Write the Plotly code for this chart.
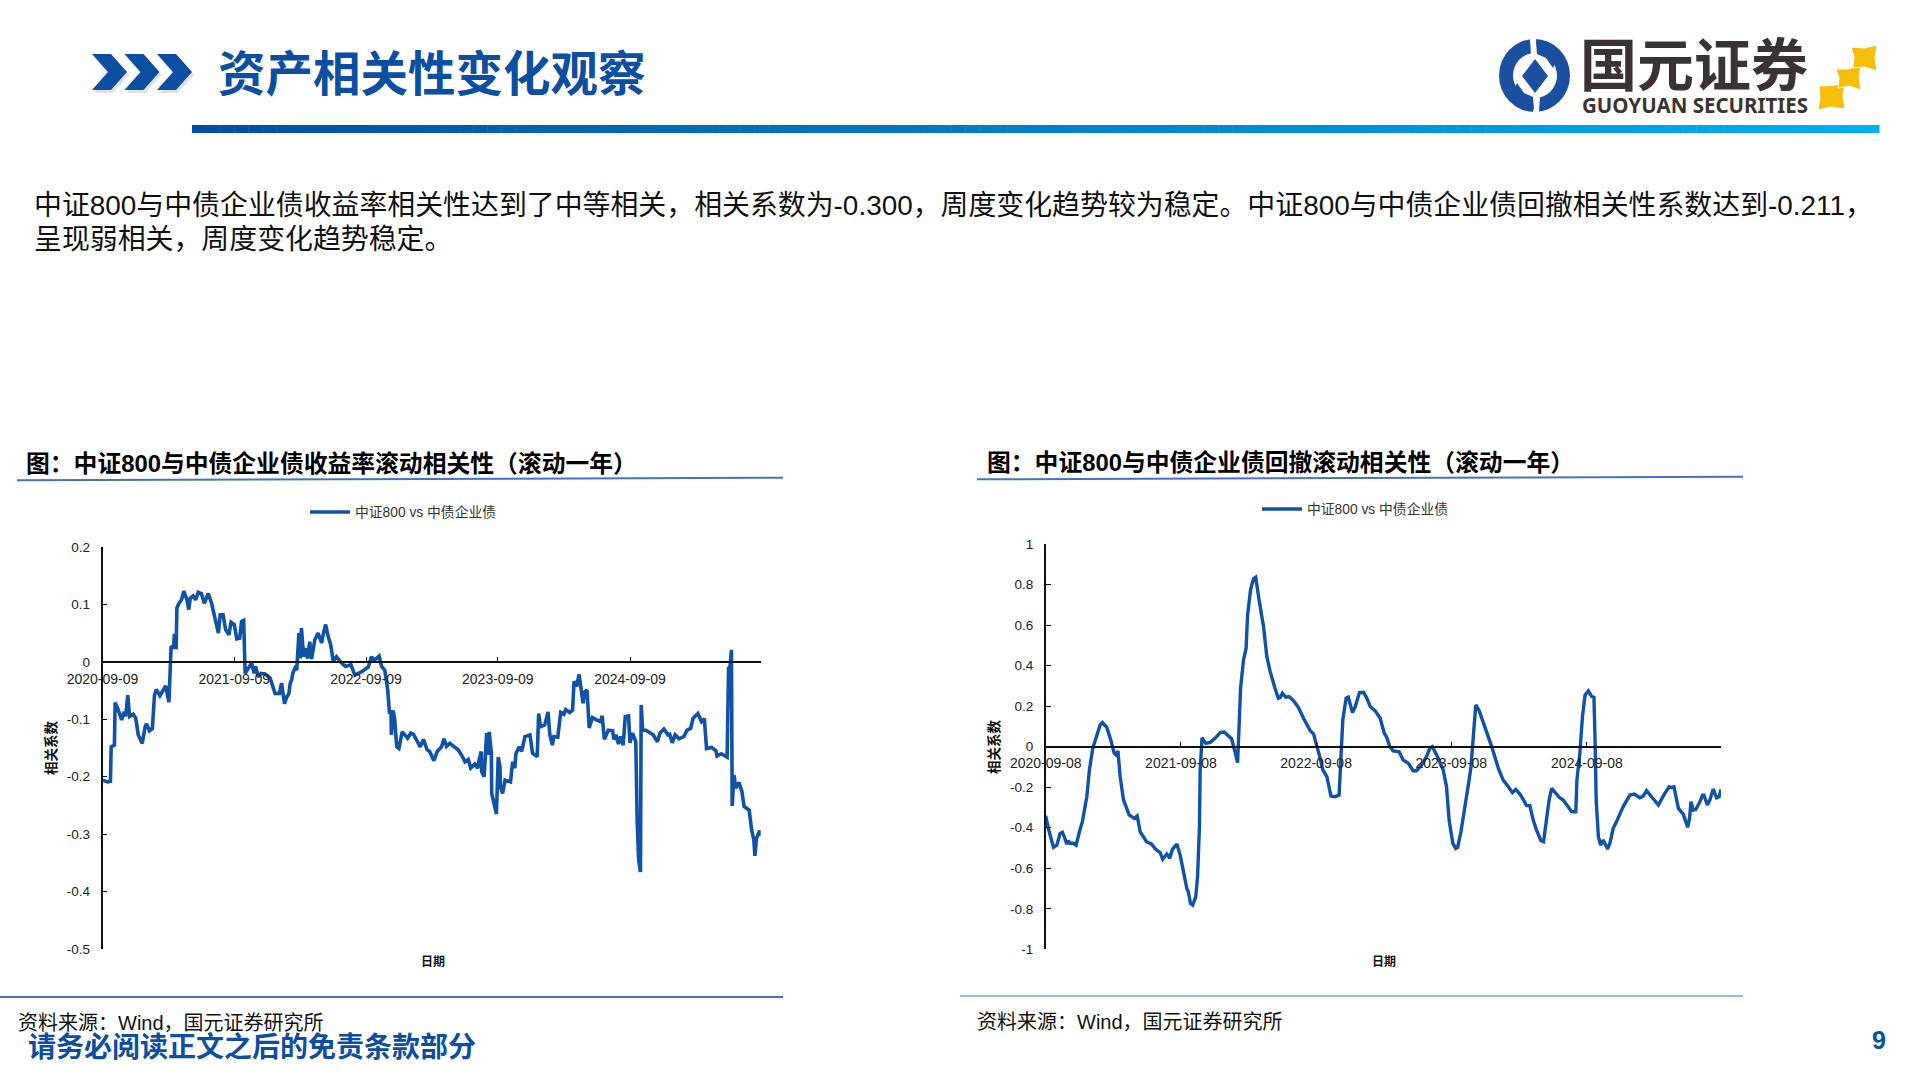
import pandas as pd
import plotly.graph_objects as go

W, H = 1920, 1080
def X(p): return p / W
def Y(p): return 1 - p / H

LATIN_CJK = "Liberation Sans, Noto Sans CJK SC"
BLUE = "#0F52A6"

page_title = "资产相关性变化观察"
body_line1 = "中证800与中债企业债收益率相关性达到了中等相关，相关系数为-0.300，周度变化趋势较为稳定。中证800与中债企业债回撤相关性系数达到-0.211，"
body_line2 = "呈现弱相关，周度变化趋势稳定。"
title_left = "图：中证800与中债企业债收益率滚动相关性（滚动一年）"
title_right = "图：中证800与中债企业债回撤滚动相关性（滚动一年）"
series_name = "中证800 vs 中债企业债"
source_text = "资料来源：Wind，国元证券研究所"
footer_text = "请务必阅读正文之后的免责条款部分"
page_number = "9"

start_left = "2020-09-09"
start_right = "2020-09-08"
ticks_left = ["2020-09-09", "2021-09-09", "2022-09-09", "2023-09-09", "2024-09-09"]
ticks_right = ["2020-09-08", "2021-09-08", "2022-09-08", "2023-09-08", "2024-09-08"]
yvals_left = [0.2, 0.1, 0, -0.1, -0.2, -0.3, -0.4, -0.5]
ylabels_left = ["0.2", "0.1", "0", "-0.1", "-0.2", "-0.3", "-0.4", "-0.5"]
yvals_right = [1, 0.8, 0.6, 0.4, 0.2, 0, -0.2, -0.4, -0.6, -0.8, -1]
ylabels_right = ["1", "0.8", "0.6", "0.4", "0.2", "0", "-0.2", "-0.4", "-0.6", "-0.8", "-1"]

days_left = [1,7,14,22,24,33,35,42,53,60,64,70,75,85,92,99,110,118,122,130,138,144,149,159,175,184,190,197,199,204,206,212,219,225,234,239,243,251,258,265,274,282,293,302,310,321,326,334,341,350,356,365,372,380,385,391,395,408,413,420,424,431,439,450,464,478,490,496,504,511,516,520,524,527,533,538,544,548,551,557,563,568,574,579,588,597,607,611,618,625,632,639,648,662,673,688,699,718,736,745,750,759,766,773,782,790,795,799,800,805,809,815,821,830,845,854,861,875,880,889,899,906,
             918,927,939,946,953,962,973,985,997,1004,1013,1020,1031,1039,1043,1049,1050,1057,1064,1067,1071,1077,1078,1084,1091,1096,1101,1102,1108,1115,1130,1136,1142,1145,1154,1161,1170,1184,1191,1204,1208,1213,1225,1234,1239,1246,1250,1261,1269,1278,1283,1294,1302,1306,1313,1320,1324,1331,1336,1342,1348,1357,1368,1379,1384,1390,1401,1413,1416,1422,1429,1435,1442,1448,1457,1461,1468,1477,1481,1485,1490,1492,1496,1505,1525,1537,1544,1555,1566,1571,1578,1586,1597,1610,1619,1629,1636,1649,1659,1667,1673,1687,1699,1702,1714,1730,1734,1738,1742,1744,1749,1754,1763,1771,1777,1791,1798,1804,1807,1811,1820,1823]
corr_left = [-0.206,-0.207,-0.209,-0.208,-0.148,-0.145,-0.071,-0.081,-0.101,-0.087,-0.095,-0.058,-0.095,-0.091,-0.098,-0.127,-0.142,-0.113,-0.108,-0.120,-0.116,-0.058,-0.048,-0.059,-0.042,-0.070,0.027,0.024,0.049,0.022,0.094,0.102,0.108,0.123,0.108,0.091,0.111,0.115,0.108,0.121,0.119,0.102,0.119,0.102,0.082,0.050,0.082,0.082,0.056,0.047,0.069,0.065,0.040,0.041,0.070,0.072,-0.020,-0.005,-0.002,-0.020,-0.008,-0.026,-0.020,-0.021,-0.028,-0.055,-0.055,-0.037,-0.073,-0.060,-0.056,-0.037,-0.031,-0.020,-0.011,-0.014,0.050,0.006,0.059,0.009,0.024,0.006,0.035,0.005,0.038,0.050,0.033,0.047,0.065,0.044,0.030,0.001,0.009,-0.002,-0.008,-0.005,-0.023,-0.017,-0.009,0.009,0.003,0.006,0.010,-0.008,-0.015,-0.049,-0.090,-0.084,-0.127,-0.085,-0.098,-0.148,-0.151,-0.122,-0.133,-0.124,-0.126,-0.142,-0.148,-0.135,-0.153,-0.156,
             -0.172,-0.156,-0.148,-0.134,-0.147,-0.142,-0.147,-0.153,-0.165,-0.174,-0.170,-0.185,-0.178,-0.185,-0.171,-0.156,-0.191,-0.200,-0.124,-0.162,-0.122,-0.159,-0.229,-0.247,-0.265,-0.166,-0.183,-0.217,-0.229,-0.206,-0.209,-0.174,-0.185,-0.160,-0.148,-0.156,-0.130,-0.127,-0.159,-0.165,-0.090,-0.113,-0.110,-0.087,-0.127,-0.145,-0.130,-0.131,-0.088,-0.091,-0.083,-0.088,-0.084,-0.034,-0.043,-0.022,-0.037,-0.072,-0.052,-0.049,-0.115,-0.097,-0.101,-0.104,-0.094,-0.135,-0.119,-0.120,-0.135,-0.127,-0.143,-0.130,-0.145,-0.095,-0.094,-0.141,-0.124,-0.139,-0.281,-0.345,-0.366,-0.075,-0.119,-0.119,-0.127,-0.139,-0.124,-0.117,-0.127,-0.126,-0.141,-0.127,-0.134,-0.130,-0.119,-0.116,-0.098,-0.090,-0.104,-0.099,-0.151,-0.149,-0.155,-0.164,-0.160,-0.166,-0.011,-0.008,0.021,-0.251,-0.197,-0.220,-0.210,-0.226,-0.252,-0.258,-0.293,-0.310,-0.338,-0.308,-0.294,-0.303]

days_right = [0,7,21,30,39,45,50,57,61,66,75,82,91,99,111,118,127,138,147,153,165,176,185,190,195,201,210,217,225,239,247,255,261,272,286,297,309,316,327,335,342,354,363,372,381,385,391,397,405,410,415,417,422,432,444,457,471,482,491,502,511,518,522,526,534,541,545,553,561,567,576,588,597,606,619,628,633,639,648,657,669,682,696,714,723,732,741,748,759,770,781,792,796,802,811,817,828,835,847,858,867,876,889,903,914,
              920,929,938,954,965,979,992,1001,1015,1028,1037,1044,1060,1073,1082,1089,1099,1107,1112,1121,1130,1136,1143,1148,1154,1161,1170,1186,1204,1222,1235,1249,1260,1269,1280,1289,1298,1307,1316,1325,1337,1344,1352,1359,1366,1377,1386,1397,1409,1420,1431,1434,1442,1449,1456,1465,1474,1480,1483,1486,1492,1498,1505,1517,1523,1532,1541,1559,1577,1589,1604,1613,1622,1636,1654,1670,1683,1688,1696,1708,1721,1733,1738,1742,1748,1755,1766,1773,1777,1786,1793,1802,1811,1818,1823]
corr_right = [-0.342,-0.403,-0.497,-0.486,-0.428,-0.423,-0.444,-0.481,-0.464,-0.477,-0.477,-0.486,-0.420,-0.370,-0.247,-0.115,-0.008,0.058,0.107,0.119,0.095,0.030,-0.033,-0.041,-0.021,-0.148,-0.263,-0.296,-0.337,-0.354,-0.342,-0.420,-0.436,-0.469,-0.481,-0.507,-0.523,-0.555,-0.530,-0.551,-0.507,-0.481,-0.535,-0.626,-0.700,-0.716,-0.774,-0.782,-0.741,-0.642,-0.395,-0.115,0.044,0.016,0.021,0.041,0.069,0.072,0.054,0.038,-0.025,-0.079,0.099,0.288,0.428,0.486,0.650,0.774,0.828,0.836,0.724,0.593,0.444,0.370,0.288,0.239,0.242,0.263,0.244,0.247,0.227,0.194,0.140,0.079,0.063,0.008,-0.058,-0.115,-0.148,-0.244,-0.247,-0.239,-0.049,0.132,0.239,0.244,0.168,0.194,0.267,0.268,0.239,0.198,0.178,0.140,0.066,
              0.049,0.000,-0.021,-0.025,-0.066,-0.082,-0.119,-0.119,-0.091,-0.049,-0.008,0.000,-0.058,-0.115,-0.198,-0.362,-0.477,-0.502,-0.497,-0.420,-0.321,-0.263,-0.165,-0.099,0.066,0.206,0.178,0.099,0.000,-0.107,-0.165,-0.198,-0.227,-0.211,-0.234,-0.260,-0.291,-0.291,-0.362,-0.412,-0.464,-0.469,-0.346,-0.263,-0.206,-0.230,-0.250,-0.263,-0.291,-0.321,-0.321,-0.165,-0.033,0.148,0.255,0.275,0.247,0.244,0.033,-0.263,-0.444,-0.486,-0.461,-0.505,-0.477,-0.403,-0.370,-0.296,-0.239,-0.234,-0.252,-0.244,-0.217,-0.250,-0.288,-0.234,-0.198,-0.201,-0.198,-0.305,-0.333,-0.398,-0.354,-0.272,-0.313,-0.309,-0.272,-0.239,-0.239,-0.288,-0.263,-0.209,-0.252,-0.247,-0.211]


def to_dates(start, offsets):
    return [(pd.Timestamp(start) + pd.Timedelta(days=d)).strftime("%Y-%m-%d") for d in offsets]


def poly(points, color, opacity=1.0):
    d = "M " + " L ".join(f"{X(a):.5f},{Y(b):.5f}" for a, b in points) + " Z"
    return dict(type="path", xref="paper", yref="paper", path=d, fillcolor=color,
                line=dict(width=0), opacity=opacity, layer="above")


def seg(x0, y0, x1, y1, color, width):
    return dict(type="line", xref="paper", yref="paper", x0=X(x0), y0=Y(y0), x1=X(x1), y1=Y(y1),
                line=dict(color=color, width=width))


def oval(x0, y0, x1, y1, color):
    return dict(type="circle", xref="paper", yref="paper", x0=X(x0), y0=Y(y0), x1=X(x1), y1=Y(y1),
                fillcolor=color, line=dict(width=0))


def note(text, x, y, size, color="#111111", bold=False, xanchor="left", font=LATIN_CJK, angle=0):
    return dict(text=f"<b>{text}</b>" if bold else text, xref="paper", yref="paper", x=X(x), y=Y(y),
                xanchor=xanchor, yanchor="middle", showarrow=False, textangle=angle,
                font=dict(family=font, size=size, color=color))


shapes = []
for i in range(3):
    o = i * 32.5
    pts = [(92 + o, 54), (111 + o, 54), (127 + o, 72), (111 + o, 90), (92 + o, 90), (108 + o, 72)]
    shapes.append(poly([(a + 2, b + 3) for a, b in pts], "#888888", 0.25))
for i in range(3):
    o = i * 32.5
    shapes.append(poly([(92 + o, 54), (111 + o, 54), (127 + o, 72), (111 + o, 90), (92 + o, 90), (108 + o, 72)], "#0B4EA2"))

n = 120
c0, c1 = (0, 78, 162), (0, 176, 240)
for i in range(n):
    t = i / (n - 1)
    col = "rgb(%d,%d,%d)" % tuple(round(c0[k] + (c1[k] - c0[k]) * t) for k in range(3))
    a = 192 + (1879 - 192) * i / n
    b = 192 + (1879 - 192) * (i + 1) / n + 0.5
    shapes.append(dict(type="rect", xref="paper", yref="paper", x0=X(a), x1=X(b), y0=Y(133), y1=Y(125),
                       fillcolor=col, line=dict(width=0)))

LOGO = "#1B4F9F"
shapes += [
    oval(1499, 39, 1570, 112, LOGO),
    oval(1513, 53, 1557, 98, "#FFFFFF"),
    poly([(1535, 59), (1548, 76), (1535, 93), (1522, 76)], LOGO),
    poly([(1530, 39), (1536, 39), (1538, 56), (1531, 56)], "#FFFFFF"),
    poly([(1533, 96), (1540, 96), (1539, 112), (1533, 112)], "#FFFFFF"),
    poly([(1536, 41), (1560, 52), (1553, 68), (1546, 58), (1537, 54)], LOGO),
    poly([(1534, 110), (1510, 99), (1517, 83), (1524, 93), (1533, 97)], LOGO),
]
GOLD = "#F7BD0B"
for pts in (
    [(1819, 86), (1832, 85.5), (1845, 83), (1843, 96), (1845, 109), (1831, 107), (1818, 110), (1820, 98)],
    [(1836, 69), (1848, 69), (1861, 65), (1859, 77), (1861, 90), (1849, 86), (1838, 88), (1839, 78)],
    [(1851, 47), (1864, 48), (1877, 45), (1875, 58), (1877, 71), (1865, 67), (1853, 68), (1854, 57)],
):
    s = poly(pts, GOLD)
    s["line"] = dict(width=1, color="#FFFFFF")
    shapes.append(s)
shapes += [
    seg(17, 480.3, 783, 477.7, "#4472C4", 2),
    seg(977, 479.3, 1743, 476.7, "#4472C4", 2),
    seg(0, 997, 783, 997, "#4472C4", 2),
    seg(960, 996, 1743, 996, "#9DB7E0", 2),
]

annotations = [
    note(page_title, 216, 75, 47.5, "#0B4EA2", bold=True),
    note(body_line1, 32, 205, 27.9),
    note(body_line2, 32, 239, 27.9),
    note(title_left, 23.5, 463, 23.8, "#000000", bold=True),
    note(title_right, 984.5, 462, 23.8, "#000000", bold=True),
    note("日期", 433, 962, 12, "#111111", bold=True, xanchor="center"),
    note("日期", 1384, 962, 12, "#111111", bold=True, xanchor="center"),
    note("相关系数", 51, 748, 13.5, "#111111", bold=True, xanchor="center", angle=-90),
    note("相关系数", 994, 747, 13.5, "#111111", bold=True, xanchor="center", angle=-90),
    note(source_text, 15.5, 1023, 20),
    note(source_text, 975, 1022, 20),
    note(footer_text, 26, 1047, 28, "#0B4EA2", bold=True),
    note(page_number, 1878.5, 1040, 25, "#0B4EA2", bold=True, xanchor="center"),
    note("国元证券", 1694, 66, 57, "#3B3331", bold=True, xanchor="center", font=LATIN_CJK),
    note("GUOYUAN SECURITIES", 1695, 105, 20.5, "#3B3331", bold=True, xanchor="center", font="Noto Sans"),
]

fig = go.Figure()
fig.add_trace(go.Scatter(x=to_dates(start_left, days_left), y=corr_left, mode="lines", name=series_name,
                         line=dict(color=BLUE, width=3.6), xaxis="x", yaxis="y", legend="legend", showlegend=True))
fig.add_trace(go.Scatter(x=to_dates(start_right, days_right), y=corr_right, mode="lines", name=series_name,
                         line=dict(color=BLUE, width=3.4), xaxis="x2", yaxis="y2", legend="legend2", showlegend=True))


def xaxis(start, ticks, x0, x1, ypos):
    return dict(type="date", domain=[X(x0), X(x1)], range=[start, to_dates(start, [1823])[0]],
                anchor="free", position=Y(ypos), side="bottom", automargin=False, showgrid=False, zeroline=False,
                showline=True, linecolor="#111111", linewidth=1.6, ticks="inside", ticklen=4,
                tickwidth=1.2, tickcolor="#111111", tickmode="array", tickvals=ticks, ticktext=ticks,
                tickfont=dict(family="Liberation Sans", size=14, color="#222222"), ticklabelstandoff=4)


def yaxis(rng, vals, labels, y0, y1, anchor):
    return dict(domain=[Y(y0), Y(y1)], range=rng, anchor=anchor, automargin=False, showgrid=False, zeroline=False,
                showline=True, linecolor="#111111", linewidth=1.6, ticks="inside", ticklen=5,
                tickwidth=1.2, tickcolor="#111111", tickmode="array", tickvals=vals, ticktext=labels,
                tickfont=dict(family="Liberation Sans", size=13.5, color="#222222"), ticklabelstandoff=8)


legend_common = dict(xanchor="left", yanchor="middle", bgcolor="rgba(0,0,0,0)", borderwidth=0, itemwidth=40,
                     font=dict(family=LATIN_CJK, size=13.8, color="#333333"))

fig.update_layout(
    width=W, height=H, margin=dict(l=0, r=0, t=0, b=0, autoexpand=False), paper_bgcolor="#FFFFFF", plot_bgcolor="#FFFFFF",
    showlegend=True,
    xaxis=xaxis(start_left, ticks_left, 102.5, 760.7, 662),
    yaxis=yaxis([-0.5, 0.2], yvals_left, ylabels_left, 949, 547, "x"),
    xaxis2=xaxis(start_right, ticks_right, 1045.7, 1721, 746.7),
    yaxis2=yaxis([-1, 1], yvals_right, ylabels_right, 949.3, 544, "x2"),
    legend=dict(x=X(305), y=Y(512), **legend_common),
    legend2=dict(x=X(1257), y=Y(509), **legend_common),
    shapes=shapes, annotations=annotations,
)

fig.write_html("out.html", config={"displayModeBar": False}, post_script="document.body.style.margin='0';")
